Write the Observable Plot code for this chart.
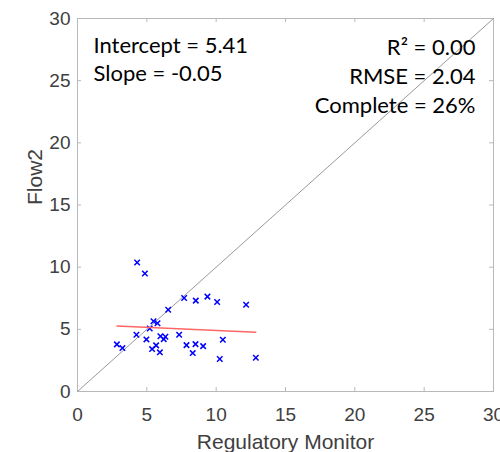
<!DOCTYPE html>
<html>
<head>
<meta charset="utf-8">
<script src="https://cdn.jsdelivr.net/npm/d3@7"></script>
<script src="https://cdn.jsdelivr.net/npm/@observablehq/plot@0.6"></script>
<style>
  html, body { margin: 0; padding: 0; background: #fff; }
  #chart svg { display: block; }
</style>
</head>
<body>
<div id="chart"></div>
<script>
// Data
const monitor = [4.30, 4.86, 7.69, 8.53, 9.37, 10.07, 12.16, 6.54, 5.48, 5.77, 5.21, 4.25, 4.97, 5.98, 6.34, 6.22, 7.33, 2.84, 3.24, 5.67, 5.38, 5.94, 7.86, 8.51, 9.06, 8.31, 10.48, 10.26, 12.86];
const flow2   = [10.37, 9.49, 7.52, 7.31, 7.63, 7.20, 6.98, 6.58, 5.65, 5.49, 5.07, 4.56, 4.19, 4.45, 4.40, 4.21, 4.56, 3.79, 3.49, 3.71, 3.41, 3.15, 3.73, 3.81, 3.65, 3.09, 4.16, 2.61, 2.72];
const intercept = 5.41;
const slope = -0.05;
const axisTicks = [0, 5, 10, 15, 20, 25, 30];
const leftLabels = ["Intercept = 5.41", "Slope = -0.05"];
const rightLabels = ["R² = 0.00", "RMSE = 2.04", "Complete = 26%"];

const points = monitor.map((x, i) => ({x, y: flow2[i]}));
const xMin = d3.min(monitor), xMax = d3.max(monitor);
const fit = [xMin, xMax].map(x => ({x, y: intercept + slope * x}));
const diag = [0, 30].map(v => ({x: v, y: v}));

const W = 500, H = 452, mL = 77, mR = 7, mT = 18, mB = 61;
const frameW = W - mL - mR, frameH = H - mT - mB, tickLen = 4;

const tickColor = "#404040";
const boxColor = "#b8b8b8";
const annoFont = "Lato, 'Open Sans', sans-serif";

const leftMarks = leftLabels.map((t, i) =>
  Plot.text([t], {frameAnchor: "top-left", dx: 16, dy: 34 + i * 28, text: d => d, textAnchor: "start", lineAnchor: "bottom", fontSize: 22, fontFamily: annoFont, fill: "#000"}));
const rightMarks = rightLabels.map((t, i) =>
  Plot.text([t], {frameAnchor: "top-right", dx: -18, dy: 36 + i * 29, text: d => d, textAnchor: "end", lineAnchor: "bottom", fontSize: 22, fontFamily: annoFont, fill: "#000"}));

const inner = axisTicks.slice(1, -1);

const chart = Plot.plot({
  width: W,
  height: H,
  marginLeft: mL,
  marginRight: mR,
  marginTop: mT,
  marginBottom: mB,
  style: {fontFamily: "Liberation Sans, Arial, sans-serif", background: "#fff"},
  x: {domain: [0, 30]},
  y: {domain: [0, 30]},
  marks: [
    Plot.frame({stroke: boxColor}),
    Plot.axisX({ticks: axisTicks, tickSize: 0, color: tickColor, fontSize: 19, tickPadding: 16, label: null}),
    Plot.axisY({ticks: axisTicks, tickSize: 0, color: tickColor, fontSize: 19, tickPadding: 7, label: null}),
    // inward tick marks on all four sides
    Plot.tickX(inner, {x: d => d, stroke: boxColor, insetTop: frameH - tickLen}),
    Plot.tickX(inner, {x: d => d, stroke: boxColor, insetBottom: frameH - tickLen}),
    Plot.tickY(inner, {y: d => d, stroke: boxColor, insetRight: frameW - tickLen}),
    Plot.tickY(inner, {y: d => d, stroke: boxColor, insetLeft: frameW - tickLen}),
    Plot.line(diag, {x: "x", y: "y", stroke: "#999999", strokeWidth: 1}),
    Plot.dot(points, {x: "x", y: "y", symbol: "times", r: 2.6, stroke: "#0000ff", strokeWidth: 1.5}),
    Plot.line(fit, {x: "x", y: "y", stroke: "#ff6666", strokeWidth: 1.3}),
    ...leftMarks,
    ...rightMarks,
    Plot.text(["Regulatory Monitor"], {frameAnchor: "bottom", dy: 57, text: d => d, fontSize: 21, fill: tickColor, lineAnchor: "bottom"}),
    Plot.text(["Flow2"], {frameAnchor: "left", dx: -42, text: d => d, rotate: -90, fontSize: 21, fill: tickColor})
  ]
});
document.getElementById("chart").appendChild(chart);
</script>
</body>
</html>
